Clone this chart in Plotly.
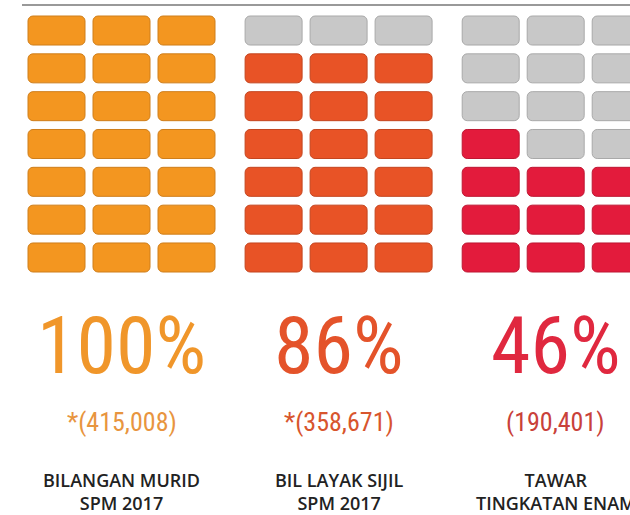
import plotly.graph_objects as go

# ---- data ----
percentages = [100, 86, 46]
counts = ["*(415,008)", "*(358,671)", "(190,401)"]
labels = ["BILANGAN MURID<br>SPM 2017", "BIL LAYAK SIJIL<br>SPM 2017", "TAWAR<br>TINGKATAN ENAM"]
fill_colors = ["#F39620", "#E85326", "#E31B3C"]
edge_colors = ["#CF7E1A", "#C4451F", "#BE1632"]
pct_colors = ["#F0962A", "#E4532A", "#E0283F"]
count_colors = ["#E8953F", "#D8552D", "#C9413A"]
empty_color = "#C8C8C8"
empty_edge = "#A9A9A9"

N_COLS = 3
N_ROWS = 7
GROUP_STEP = 3.34
TOTAL = N_COLS * N_ROWS

xs, bases, heights, colors, edges = [], [], [], [], []
for g, pct in enumerate(percentages):
    n_filled = round(pct / 100 * TOTAL)
    for r in range(N_ROWS):
        for c in range(N_COLS):
            i = r * N_COLS + c
            xs.append(g * GROUP_STEP + c)
            bases.append(r)
            heights.append(0.767)
            if i < n_filled:
                colors.append(fill_colors[g])
                edges.append(edge_colors[g])
            else:
                colors.append(empty_color)
                edges.append(empty_edge)

fig = go.Figure()
fig.add_trace(go.Bar(
    x=xs, y=heights, base=bases, width=0.877,
    marker=dict(color=colors, line=dict(color=edges, width=1), cornerradius=5),
    hoverinfo="skip", showlegend=False,
))

W, H = 630, 515
XU, YU = 65.0, 37.83  # px per unit
x0 = -56.5 / XU
y_bottom_px = 272.0
fig.update_xaxes(range=[x0, x0 + W / XU], visible=False, fixedrange=True)
fig.update_yaxes(range=[(y_bottom_px - H) / YU, y_bottom_px / YU], visible=False, fixedrange=True)

def ypx(py):
    return (y_bottom_px - py) / YU

BIG_FONT = "Roboto Condensed, Liberation Sans Narrow, Arial Narrow, sans-serif"
LABEL_FONT = "Open Sans, Liberation Sans, sans-serif"
ann = []
for g in range(len(percentages)):
    cx = g * GROUP_STEP + 1
    ann.append(dict(x=cx, y=ypx(346), text=f"{percentages[g]}%", showarrow=False,
                    font=dict(family=BIG_FONT, size=80, color=pct_colors[g]), xanchor="center", yanchor="middle"))
    ann.append(dict(x=cx, y=ypx(422), text=counts[g], showarrow=False,
                    font=dict(family=BIG_FONT, size=26, color=count_colors[g]), xanchor="center", yanchor="middle"))
    ann.append(dict(x=cx, y=ypx(491), text=labels[g], showarrow=False,
                    font=dict(family=LABEL_FONT, size=18, weight=600, color="#222222"),
                    xanchor="center", yanchor="middle"))
for a in ann:
    a["xref"] = "x"
    a["yref"] = "y"

fig.update_layout(
    width=W, height=H,
    margin=dict(l=0, r=0, t=0, b=0),
    paper_bgcolor="white", plot_bgcolor="white",
    barmode="overlay",
    annotations=ann,
    shapes=[dict(type="line", xref="paper", yref="paper", x0=22 / W, x1=1, y0=1 - 5 / H, y1=1 - 5 / H,
                 line=dict(color="#777777", width=1.5))],
)

fig.write_html("out.html", config={"displayModeBar": False},
               post_script="document.body.style.margin='0';document.body.style.overflow='hidden';")
